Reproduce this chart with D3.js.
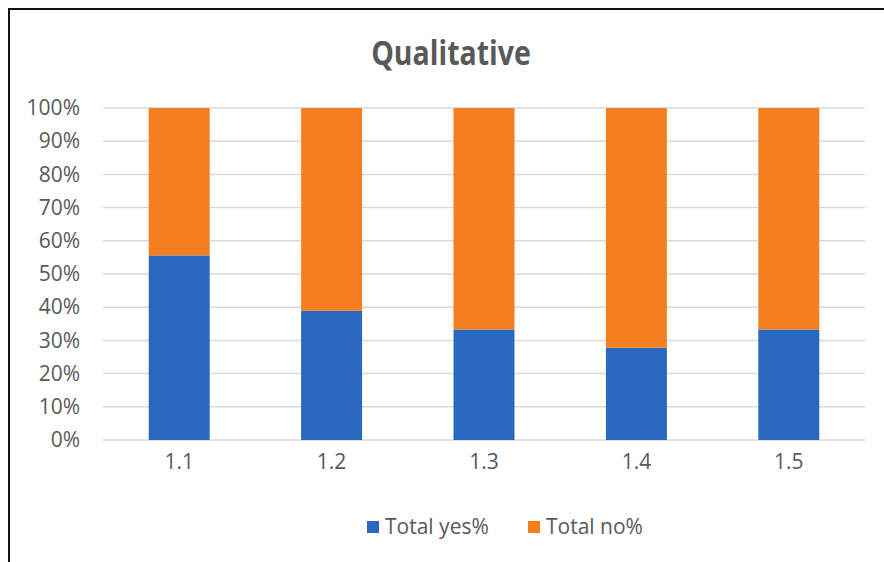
<!DOCTYPE html>
<html>
<head>
<meta charset="utf-8">
<script src="https://cdn.jsdelivr.net/npm/d3@7"></script>
<style>
  body { margin: 0; background: #fff; }
  text { font-family: "Open Sans", "Noto Sans", sans-serif; fill: #595959; }
</style>
</head>
<body>
<div class="canvas"></div>
<script>
const categories = ["1.1", "1.2", "1.3", "1.4", "1.5"];
const yesPct = [55.6, 38.9, 33.3, 27.8, 33.3];
const noPct = [44.4, 61.1, 66.7, 72.2, 66.7];
const seriesNames = ["Total yes%", "Total no%"];
const seriesColors = ["#2a67be", "#f57f20"];
const yTicks = [0, 10, 20, 30, 40, 50, 60, 70, 80, 90, 100];

const width = 884, height = 562;

const svg = d3.select('.canvas')
  .append('svg')
  .attr('width', width)
  .attr('height', height);

// frame (top + left edges visible)
svg.append("path")
  .attr("d", "M9,562 V9 H884")
  .style("fill", "none")
  .style("stroke", "#111")
  .style("stroke-width", 2);

// title, stretched a bit vertically like the narrow original font
svg.append("text")
  .attr("transform", "translate(451,65) scale(0.95,1.12)")
  .attr("text-anchor", "middle")
  .style("font-size", "30px")
  .style("font-weight", "bold")
  .text("Qualitative");

const x = d3.scaleBand()
  .domain(categories)
  .range([103, 865])
  .paddingInner(0.6)
  .paddingOuter(0.3);

const y = d3.scaleLinear()
  .domain([0, 100])
  .range([440, 108]);

// gridlines
svg.append("g")
  .selectAll("line")
  .data(yTicks)
  .join("line")
    .attr("x1", 103)
    .attr("x2", 865)
    .attr("y1", d => y(d))
    .attr("y2", d => y(d))
    .style("stroke", "#d9d9d9")
    .style("stroke-width", 1.5);

// y axis labels
const yAxis = svg.append("g")
  .attr("transform", "translate(88,0)")
  .call(d3.axisLeft(y).tickValues(yTicks).tickFormat(d => d + "%").tickSize(0).tickPadding(8));
yAxis.select(".domain").remove();
yAxis.selectAll("text")
  .style("font-size", "21px")
  .style("fill", "#595959")
  .style("font-family", '"Open Sans", sans-serif');

// x axis labels
const xAxis = svg.append("g")
  .attr("transform", "translate(0,440)")
  .call(d3.axisBottom(x).tickSize(0).tickPadding(14));
xAxis.select(".domain").remove();
xAxis.selectAll("text")
  .style("font-size", "21px")
  .style("fill", "#595959")
  .style("font-family", '"Open Sans", sans-serif');

// stacked bars
const rows = categories.map((c, i) => ({ cat: c, yes: yesPct[i], no: noPct[i] }));
const stack = d3.stack().keys(["yes", "no"])(rows);

svg.append("g")
  .selectAll("g")
  .data(stack)
  .join("g")
    .style("fill", (d, i) => seriesColors[i])
  .selectAll("rect")
  .data(d => d)
  .join("rect")
    .attr("x", d => x(d.data.cat))
    .attr("width", x.bandwidth())
    .attr("y", d => y(d[1]))
    .attr("height", d => y(d[0]) - y(d[1]));

// legend
const legendX = [367, 528];
const legend = svg.append("g")
  .selectAll("g")
  .data(seriesNames)
  .join("g")
    .attr("transform", (d, i) => `translate(${legendX[i]},0)`);

legend.append("rect")
  .attr("y", 521)
  .attr("width", 12)
  .attr("height", 12)
  .style("fill", (d, i) => seriesColors[i]);

legend.append("text")
  .attr("x", 18)
  .attr("y", 534)
  .style("font-size", "21px")
  .text(d => d);
</script>
</body>
</html>
